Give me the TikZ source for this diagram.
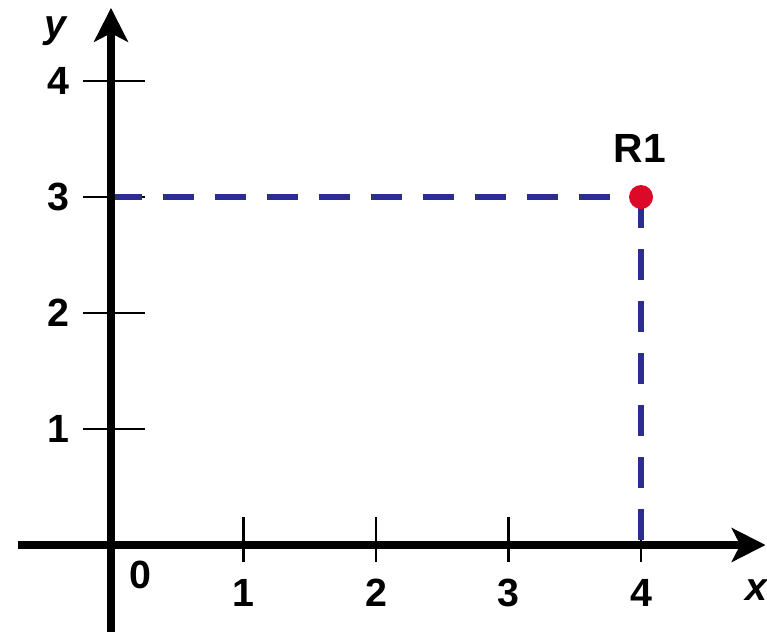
\documentclass[tikz,border=0pt]{standalone}
\usepackage{fontspec}
\setmainfont{Liberation Sans}
\usetikzlibrary{arrows.meta}
\definecolor{dashblue}{RGB}{45,45,145}
\definecolor{dotred}{RGB}{220,10,40}
\tikzset{
  axis/.style={line width=5.6pt,-{Stealth[length=24pt,width=24pt,inset=6pt]}},
  tick/.style={line width=2pt},
  ticklabel/.style={font=\fontsize{28}{30}\selectfont\bfseries,inner sep=0pt},
  guide/.style={dashblue,line width=4.2pt,dash pattern=on 22pt off 15pt},
}
\begin{document}
\begin{tikzpicture}[x=3.3125cm,y=2.9cm]
  \useasboundingbox (-0.8377,-0.7414) rectangle (4.9509,4.6983);

  \coordinate (O) at (0,0);
  \coordinate (xs) at (-0.70,0);
  \coordinate (xe) at (4.94,0);
  \coordinate (ys) at (0,-0.75);
  \coordinate (ye) at (0,4.63);

  % ticks
  \foreach \i in {1,2,3,4} {
    \draw[tick] (\i,0.24) -- (\i,-0.15);
    \node[ticklabel] (xl\i) at (\i,-0.41) {\i};
    \draw[tick] (-0.21,\i) -- (0.26,\i);
    \node[ticklabel] (yl\i) at (-0.40,\i) {\i};
  }
  \node[ticklabel] (zero) at (0.22,-0.26) {0};

  % guide lines to the point
  \coordinate (Y3) at (0,3);
  \coordinate (X4) at (4,0);
  \draw[guide] (Y3) -- (4,3);
  \draw[guide] (4,3) -- (X4);

  \draw[axis] (xs) -- (xe);
  \draw[axis] (ys) -- (ye);
  \node[ticklabel,font=\fontsize{28}{30}\selectfont\bfseries\itshape] (xlab) at (4.87,-0.39) {x};
  \node[ticklabel,font=\fontsize{28}{30}\selectfont\bfseries\itshape] (ylab) at (-0.42,4.43) {y};

  \fill[dotred] (4,3) circle[radius=0.3cm];
  \node[font=\fontsize{29}{31}\selectfont\bfseries,inner sep=0pt] (R1) at (3.99,3.42) {R1};
\end{tikzpicture}
\end{document}
